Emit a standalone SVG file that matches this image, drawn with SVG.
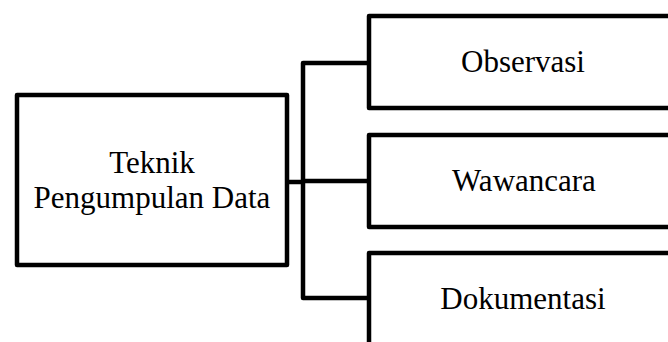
<svg xmlns="http://www.w3.org/2000/svg" width="668" height="342" viewBox="0 0 668 342">
<style>
.box{fill:#fff;stroke:#000;stroke-width:4.5;stroke-linejoin:round}
.lbl{font-family:"Liberation Serif","Times New Roman",serif;font-size:31px;fill:#000;text-anchor:middle}
.conn{fill:none;stroke:#000;stroke-width:4.5;stroke-linejoin:round}
</style>
<rect width="668" height="342" fill="#fff"/>
<g id="connectors">
<path class="conn" d="M287 182H303"/>
<path class="conn" d="M369 63H303V298H369"/>
<path class="conn" d="M303 181H369"/>
</g>
<g id="main">
<rect class="box" x="17" y="95" width="270" height="170"/>
<text class="lbl" x="152" y="173">Teknik</text>
<text class="lbl" x="152" y="208">Pengumpulan Data</text>
</g>
<g id="observasi">
<rect class="box" x="369" y="16" width="310" height="92"/>
<text class="lbl" x="523" y="72">Observasi</text>
</g>
<g id="wawancara">
<rect class="box" x="369" y="135" width="310" height="92"/>
<text class="lbl" x="524" y="191">Wawancara</text>
</g>
<g id="dokumentasi">
<rect class="box" x="369" y="253" width="310" height="100"/>
<text class="lbl" x="523" y="309">Dokumentasi</text>
</g>
</svg>
